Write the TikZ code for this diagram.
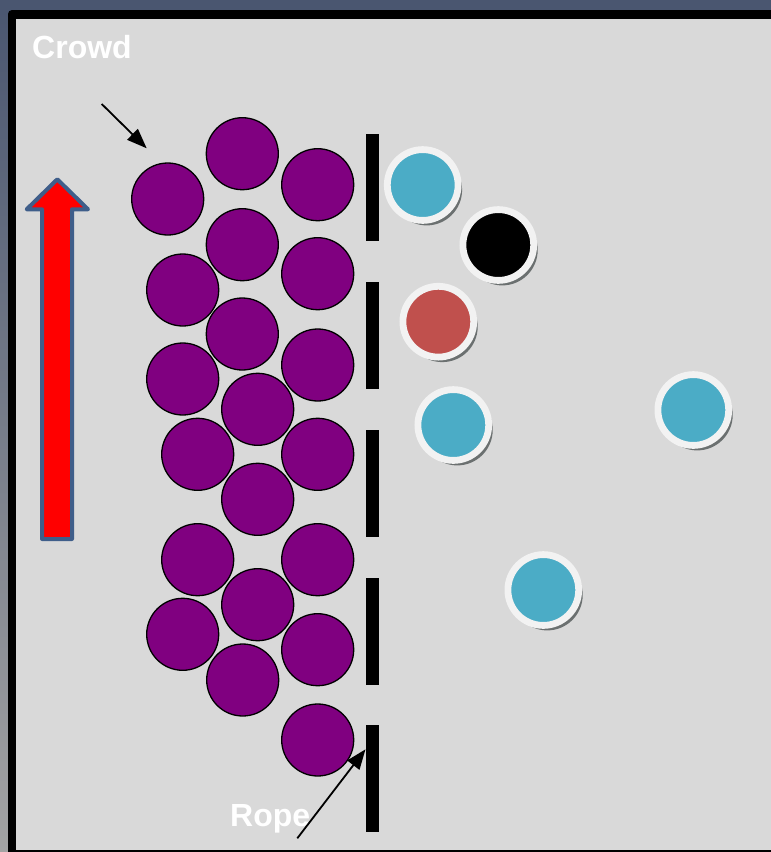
\documentclass[tikz,border=0pt]{standalone}
\usepackage{fontspec}
\setmainfont{Liberation Sans}
\usetikzlibrary{arrows.meta,shadows}
\definecolor{panelgray}{HTML}{D9D9D9}
\definecolor{crowdpurple}{HTML}{800080}
\definecolor{guestcyan}{HTML}{4BACC6}
\definecolor{guestred}{HTML}{C0504D}
\definecolor{ringwhite}{HTML}{F2F2F2}
\definecolor{shadowgray}{HTML}{6B7070}
\definecolor{arrowblue}{HTML}{3F5E8A}
\definecolor{topslate}{HTML}{4A5670}
\definecolor{lowgray}{HTML}{A3A3A3}

\begin{document}
\begin{tikzpicture}[x=1pt,y=-1pt,
    person/.style={circle, draw=black, line width=1.3pt, fill=crowdpurple,
        minimum size=72pt, inner sep=0pt},
    guest/.style={circle, draw=ringwhite, line width=6.8pt, minimum size=70.8pt,
        inner sep=0pt, drop shadow={shadow xshift=4pt, shadow yshift=-5pt,
        fill=shadowgray, opacity=1}},
    rope/.style={rectangle, fill=black, minimum width=13pt, minimum height=107pt,
        inner sep=0pt},
    label/.style={text=white, font=\bfseries\fontsize{32}{36}\selectfont,
        inner sep=0pt, anchor=base west},
    pointer/.style={-{Triangle[length=20pt,width=15pt]}, line width=1.8pt}]
    \useasboundingbox (0,0) rectangle (771,852);

    % Background and frame
    \shade[top color=topslate, bottom color=lowgray] (0,0) rectangle (771,852);
    \fill[topslate] (0,0) rectangle (771,10);
    \fill[black, rounded corners=4pt] (8,10) rectangle (800,870);
    \fill[panelgray] (16,18.5) rectangle (771,849.5);

    % Big arrow
    \draw[fill=red, draw=arrowblue, line width=4pt, line join=round]
        (57.3,179.3) -- (88,209.3) -- (72,209.3) -- (72,539) -- (42,539)
        -- (42,209.3) -- (26.7,209.3) -- cycle;

    % Nodes
    \foreach \i/\x/\y in {1/167.7/199, 2/242.3/153.7, 3/317.7/184.7,
        4/242.3/244.7, 5/182.7/290, 6/317.7/273.7, 7/242.3/334,
        8/182.7/379, 9/317.7/365, 10/257.7/409.3, 11/197.7/454.3,
        12/317.7/454.3, 13/257.7/499.3, 14/197.7/559.7, 15/317.7/559.7,
        16/257.7/604.7, 17/182.7/634.3, 18/317.7/649.7, 19/242.7/680,
        20/317.7/740}
        \node[person] (p\i) at (\x,\y) {};

    \foreach \i/\y in {1/187.3, 2/335.3, 3/483.2, 4/631, 5/778.8}
        \node[rope] (r\i) at (372,\y) {};

    \node[guest, fill=guestcyan] (g1) at (422.7,185) {};
    \node[guest, fill=black] (g2) at (498.3,245) {};
    \node[guest, fill=guestred] (g3) at (438.3,321.7) {};
    \node[guest, fill=guestcyan] (g4) at (453.3,425) {};
    \node[guest, fill=guestcyan] (g5) at (693.3,410) {};
    \node[guest, fill=guestcyan] (g6) at (543.3,590) {};

    \node[label] (crowdlabel) at (32,58) {Crowd};
    \node[label] (ropelabel) at (230,826.7) {Rope};

    % Edges
    \coordinate (crowdtail) at (101.7,104);
    \coordinate (crowdtip) at (146.7,148.3);
    \coordinate (ropetail) at (297.3,838.3);
    \coordinate (ropetip) at (365.5,749.3);
    \draw[pointer] (crowdtail) -- (crowdtip);
    \draw[pointer] (ropetail) -- (ropetip);
\end{tikzpicture}
\end{document}
